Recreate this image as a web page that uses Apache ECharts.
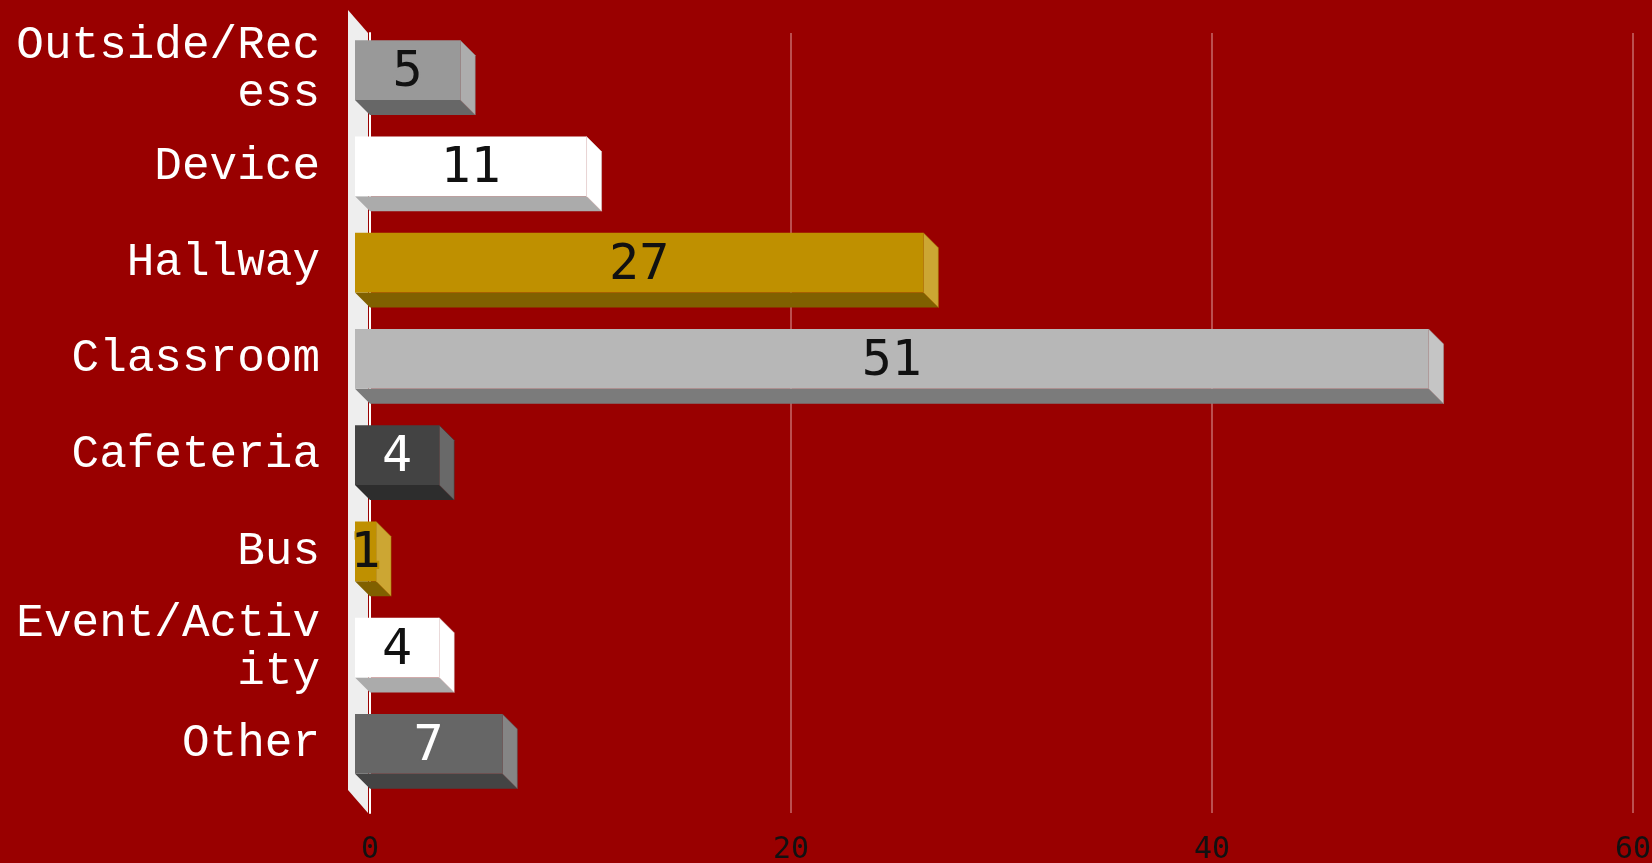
<!DOCTYPE html>
<html lang="en">
<head>
    <meta charset="utf-8">
    <title>Locations</title>
    <script src="https://cdn.jsdelivr.net/npm/echarts@6/dist/echarts.min.js"></script>
</head>
<body style="margin:0; background:#990000;">
<div id="main" style="width:1652px; height:863px;"></div>
<script type="text/javascript">
    // data
    const categories = ['Outside/Recess', 'Device', 'Hallway', 'Classroom', 'Cafeteria', 'Bus', 'Event/Activity', 'Other'];
    const counts = [5, 11, 27, 51, 4, 1, 4, 7];
    const axisMin = 0, axisMax = 60, axisStep = 20;

    // front colour of each bar, side and bottom faces derived from it
    const palette = ['#999999', '#ffffff', '#bf9000', '#b7b7b7', '#434343', '#bf9000', '#ffffff', '#666666'];
    const depth = 15;

    function hexToRgb(h) {
        let n = parseInt(h.slice(1), 16);
        return [(n >> 16) & 255, (n >> 8) & 255, n & 255];
    }
    function shade(h, k) {
        let c = hexToRgb(h).map(v => Math.round(v * k));
        return 'rgb(' + c.join(',') + ')';
    }
    function tint(h, k) {
        let c = hexToRgb(h).map(v => Math.round(v + (255 - v) * k));
        return 'rgb(' + c.join(',') + ')';
    }
    function isDark(h) {
        let c = hexToRgb(h);
        return (0.299 * c[0] + 0.587 * c[1] + 0.114 * c[2]) / 255 < 0.5;
    }

    function renderItem(params, api) {
        let idx = api.value(1);
        let base = api.coord([0, idx]);
        let tip = api.coord([api.value(0), idx]);
        let h = api.size([0, 1])[1] * 0.62;
        let col = palette[idx % palette.length];
        let x0 = base[0], x1 = tip[0];
        let yT = base[1] - h / 2, yB = base[1] + h / 2;
        let fx0 = x0 - depth, fx1 = x1 - depth, fyT = yT - depth, fyB = yB - depth;
        return {
            type: 'group',
            children: [
                {type: 'polygon', shape: {points: [[fx0, fyB], [fx1, fyB], [x1, yB], [x0, yB]]},
                    style: {fill: shade(col, 0.67)}},
                {type: 'polygon', shape: {points: [[fx1, fyT], [x1, yT], [x1, yB], [fx1, fyB]]},
                    style: {fill: tint(col, 0.2), stroke: shade(col, 0.85), lineWidth: 0.5}},
                {type: 'rect', shape: {x: fx0, y: fyT, width: fx1 - fx0, height: h},
                    style: {fill: col}},
                {type: 'text', x: (fx0 + fx1) / 2, y: (fyT + fyB) / 2 + 3,
                    style: {
                        text: String(api.value(0)), align: 'center', verticalAlign: 'middle',
                        font: '50px "DejaVu Sans Mono"',
                        fill: isDark(col) ? '#ffffff' : '#111111',
                        stroke: col, lineWidth: 4
                    }}
            ]
        };
    }

    const gLeft = 370, gRight = 19;
    let myChart = echarts.init(document.getElementById('main'));
    const option = {
        backgroundColor: '#990000',
        animation: false,
        grid: [
            // frame: gridlines, value labels, axis line
            {left: gLeft, right: gRight, top: 33, bottom: 50, outerBoundsMode: 'none'},
            // back plane of the bars
            {left: gLeft, right: gRight, top: 37, bottom: 56, outerBoundsMode: 'none'},
            // front plane, category labels
            {left: gLeft, right: gRight, top: 22, bottom: 71, outerBoundsMode: 'none'}
        ],
        xAxis: [
            {
                gridIndex: 0, type: 'value',
                min: axisMin, max: axisMax, interval: axisStep,
                axisLine: {show: false},
                axisTick: {show: false},
                splitLine: {lineStyle: {color: '#bb4f4f', width: 2}},
                axisLabel: {
                    color: '#111', fontFamily: 'DejaVu Sans Mono', fontSize: 30,
                    letterSpacing: 5, margin: 22
                }
            },
            {gridIndex: 1, type: 'value', min: axisMin, max: axisMax, show: false},
            {gridIndex: 2, type: 'value', min: axisMin, max: axisMax, show: false}
        ],
        yAxis: [
            {
                gridIndex: 0, type: 'category', data: categories, inverse: true,
                axisLine: {lineStyle: {color: '#ffffff', width: 2}},
                axisTick: {show: false}, axisLabel: {show: false}
            },
            {gridIndex: 1, type: 'category', data: categories, inverse: true, show: false},
            {
                gridIndex: 2, type: 'category', data: categories, inverse: true,
                axisLine: {show: false}, axisTick: {show: false},
                axisLabel: {
                    interval: 0,
                    color: '#ffffff', fontFamily: 'Liberation Mono', fontSize: 46,
                    lineHeight: 48, margin: 50,
                    formatter: s => s.match(/.{1,11}/g).join('\n')
                }
            }
        ],
        series: [{
            type: 'custom',
            xAxisIndex: 1, yAxisIndex: 1,
            renderItem: renderItem,
            encode: {x: 0, y: 1},
            data: counts.map((v, i) => [v, i]),
            z: 3
        }]
    };
    myChart.setOption(option);

    // the thin 3D wall behind the category axis
    let zeroPt = myChart.convertToPixel({gridIndex: 0}, [axisMin, 0]);
    let gx = zeroPt[0];
    let gTop = 33, gBot = 863 - 50;
    myChart.setOption({
        graphic: [{
            type: 'polygon', z: 1,
            shape: {points: [[gx - 2, gTop], [gx - 22, gTop - 23], [gx - 22, gBot - 23], [gx - 2, gBot]]},
            style: {fill: '#eeeeee'}
        }]
    });
</script>
</body>
</html>
